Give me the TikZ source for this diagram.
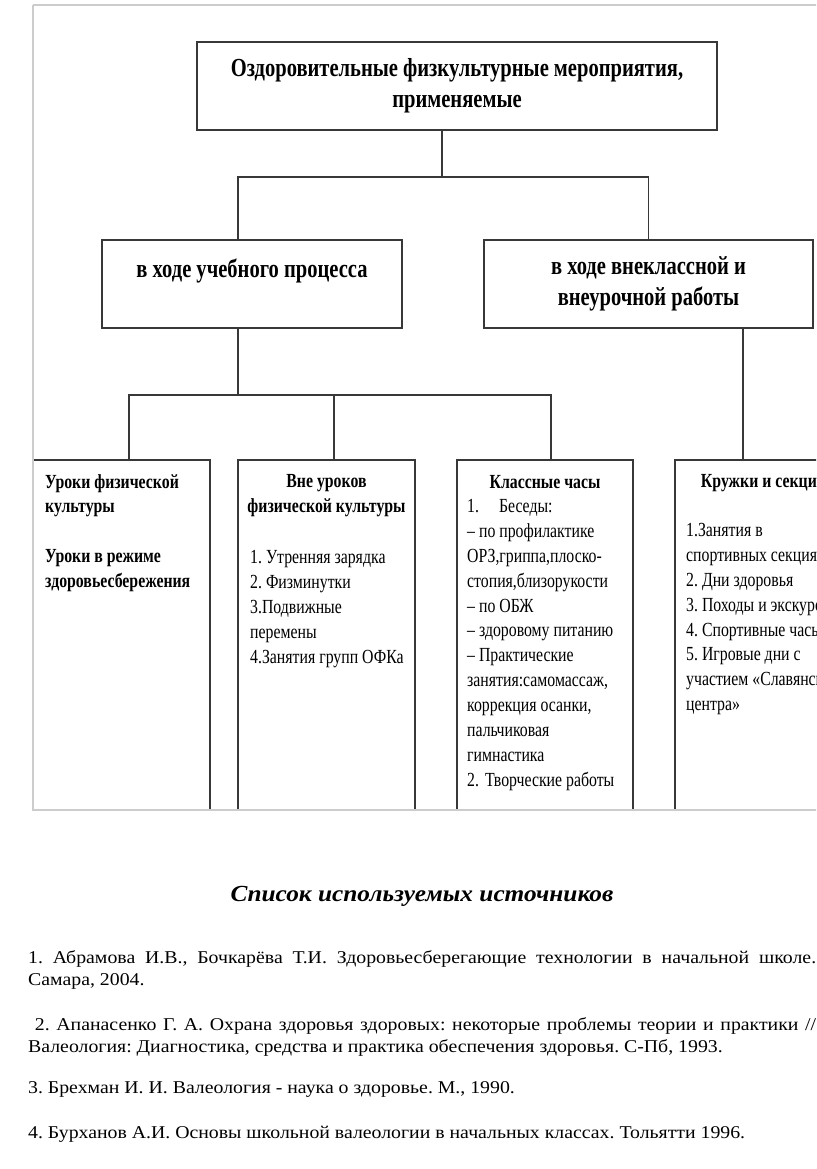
\documentclass[tikz,border=0pt]{standalone}
\usepackage{fontspec}
\setmainfont{Liberation Serif}
\newfontfamily\uzkiy[FakeStretch=0.79]{Liberation Serif}
\newfontfamily\shirokiy[FakeStretch=1.1]{Liberation Serif}
\usetikzlibrary{positioning}
\hyphenpenalty=10000
\exhyphenpenalty=10000
\frenchspacing

\tikzset{
  estilo shema/.style={
      x=1pt, y=-1pt,
      blok/.style={draw=black!78, line width=1.6pt, inner sep=0pt, outer sep=0pt, anchor=north west},
      nizhniy/.style={blok, minimum width=177pt, minimum height=380pt},
      svyaz/.style={draw=black!78, line width=1.6pt},
      ramka/.style={draw=black!20, line width=1.8pt},
      zagolovok/.style={font={\uzkiy\bfseries\fontsize{26}{31}\selectfont}, align=center},
      shapka/.style={font={\uzkiy\bfseries\fontsize{20}{24.8}\selectfont}, align=center, inner sep=0pt, anchor=north},
      punkty/.style={font={\uzkiy\fontsize{20}{24.9}\selectfont}, align=left, inner sep=0pt, anchor=north west},
      istochnik/.style={font={\shirokiy\fontsize{18}{22.5}\selectfont}, text width=788pt, align=justify, inner sep=0pt, anchor=north west},
    },
}

\begin{document}
\begin{tikzpicture}[estilo shema]
  \useasboundingbox (0,0) rectangle (816,1169);
  \clip (0,0) rectangle (816,1169);

  % verkhniy uroven
  \node[blok, zagolovok, minimum width=520pt, minimum height=88pt] (koren) at (197,42)
    {Оздоровительные физкультурные мероприятия,\\ применяемые};
  \node[blok, zagolovok, minimum width=300pt, minimum height=88pt] (urok) at (102,240)
    {в ходе учебного процесса\\ \mbox{}};
  \node[blok, zagolovok, minimum width=329pt, minimum height=88pt] (vneurok) at (484,240)
    {в ходе внеклассной и\\ внеурочной работы};

  \draw[svyaz] ([xshift=-15pt]koren.south) -- ++(0,47) coordinate (shina1);
  \draw[svyaz] ([xshift=-14pt]urok.north) |- (shina1) -| (vneurok.north);

  % nizhniy uroven
  \begin{scope}
    \clip (0,0) rectangle (816,810);
    \node[nizhniy] (urokfk) at (33,460) {};
    \node[nizhniy, right=28pt of urokfk.north east, anchor=north west] (vneurokov) {};
    \node[nizhniy, minimum width=176pt, right=42pt of vneurokov.north east, anchor=north west] (klchasy) {};
    \node[nizhniy, right=42pt of klchasy.north east, anchor=north west] (kruzhki) {};
  \end{scope}

  \draw[svyaz] ([xshift=-14pt]urok.south) -- ++(0,67) coordinate (shina2);
  \draw[svyaz] ([xshift=96pt]urokfk.north west) |- (shina2) -| ([xshift=94pt]klchasy.north west);
  \draw[svyaz] ([xshift=96pt]vneurokov.north west) |- (shina2);
  \draw[svyaz] ([xshift=259pt]vneurok.south west) -- ([xshift=68pt]kruzhki.north west);

  \node[punkty, font={\uzkiy\bfseries\fontsize{20}{24.8}\selectfont}] (t-urokfk) at ([shift={(12,14)}]urokfk.north west)
    {Уроки физической\\ культуры\\[24.8pt] Уроки в режиме\\ здоровьесбережения};

  \node[shapka] (sh-vneurokov) at ([shift={(0,14)}]vneurokov.north) {Вне уроков\\ физической культуры};
  \node[punkty] (t-vneurokov) at ([shift={(12,90)}]vneurokov.north west)
    {1. Утренняя зарядка\\ 2. Физминутки\\ 3.Подвижные\\ перемены\\ 4.Занятия групп ОФКа};

  \node[shapka] (sh-klchasy) at ([shift={(0,15)}]klchasy.north) {Классные часы};
  \node[punkty] (t-klchasy) at ([shift={(10,39)}]klchasy.north west)
    {1.\hspace{20pt}Беседы:\\ – по профилактике\\ ОРЗ,гриппа,плоско-\\ стопия,близорукости\\
     – по ОБЖ\\ – здоровому питанию\\ – Практические\\ занятия:самомассаж,\\ коррекция осанки,\\
     пальчиковая\\ гимнастика\\ 2.\hspace{6pt}Творческие работы};

  \node[shapka] (sh-kruzhki) at ([shift={(0,14)}]kruzhki.north) {Кружки и секции};
  \node[punkty] (t-kruzhki) at ([shift={(11,63)}]kruzhki.north west)
    {1.Занятия в\\ спортивных секциях\\ 2. Дни здоровья\\ 3. Походы и экскурсии\\
     4. Спортивные часы\\ 5. Игровые дни с\\ участием «Славянского\\ центра»};

  % ramka
  \draw[ramka] (33,5) -- (830,5);
  \draw[ramka] (33,5) -- (33,810) -- (830,810);

  % spisok istochnikov
  \node[font={\shirokiy\bfseries\itshape\fontsize{23}{27}\selectfont}] (spisok) at (422,896) {Список используемых источников};
  \node[istochnik] (ist1) at (28,950) {1. Абрамова И.В., Бочкарёва Т.И. Здоровьесберегающие технологии в начальной школе.\linebreak Самара, 2004.};
  \node[istochnik] (ist2) at (28,1017) {\ 2. Апанасенко Г. А. Охрана здоровья здоровых: некоторые проблемы теории и практики //\linebreak Валеология: Диагностика, средства и практика обеспечения здоровья. С-Пб, 1993.};
  \node[istochnik] (ist3) at (28,1081) {3. Брехман И. И. Валеология - наука о здоровье. М., 1990.};
  \node[istochnik] (ist4) at (28,1126) {4. Бурханов А.И. Основы школьной валеологии в начальных классах. Тольятти 1996.};
\end{tikzpicture}
\end{document}
